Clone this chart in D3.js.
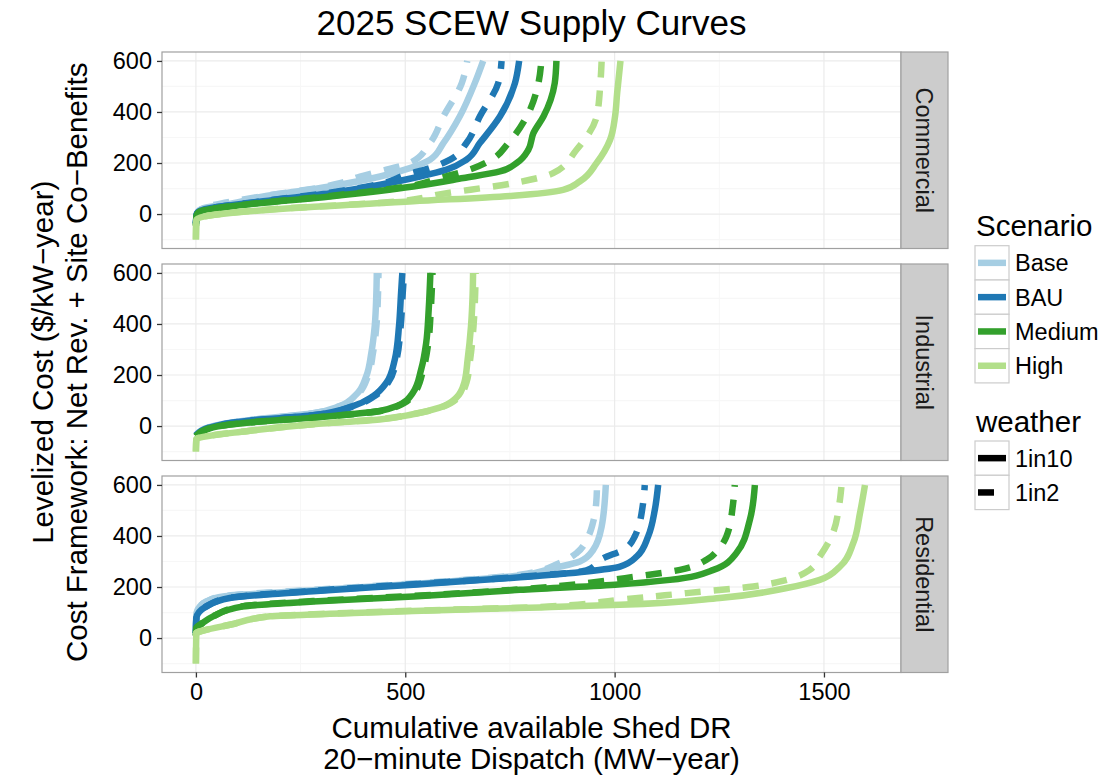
<!DOCTYPE html>
<html>
<head>
<meta charset="utf-8">
<script src="https://cdn.jsdelivr.net/npm/d3@7"></script>
<style>
  html, body { margin: 0; padding: 0; background: #fff; }
  svg { display: block; font-family: "Liberation Sans", Arial, Helvetica, sans-serif; }
</style>
</head>
<body>
<svg id="chart" width="1101" height="778"></svg>
<script>
// ---------- categories / ticks ----------
const sectors = ["Commercial", "Industrial", "Residential"];
const scenarios = ["Base", "BAU", "Medium", "High"];
const scenarioColors = ["#A6CEE3", "#1F78B4", "#33A02C", "#B2DF8A"];
const weathers = ["1in10", "1in2"];
const xTicks = [0, 500, 1000, 1500];
const xMinor = [250, 750, 1250];
const yTicks = [0, 200, 400, 600];
const yMinor = [-100, 100, 300, 500];

// ---------- series values: [cumulative MW-year, $/kW-year] ----------
// Commercial
const comBase1in10 = [[0,-35],[2,0],[17,23],[80,40],[161,69],[320,108],[440,147],[511,180],[559,213],[591,278],[630,382],[666,513],[686,600]];
const comBase1in2  = [[0,-35],[2,0],[17,23],[161,70],[300,105],[344,121],[392,147],[455,174],[511,200],[559,278],[591,382],[635,513],[648,600]];
const comBAU1in10  = [[0,-38],[2,0],[17,17],[161,50],[320,82],[440,115],[535,147],[599,174],[646,213],[678,278],[726,382],[762,513],[772,600]];
const comBAU1in2   = [[0,-38],[2,0],[17,17],[161,51],[320,84],[440,118],[503,154],[559,180],[607,213],[646,278],[678,382],[722,513],[730,600]];
const comMed1in10  = [[0,-45],[2,-5],[10,10],[121,37],[320,69],[519,108],[639,141],[726,167],[766,200],[794,252],[806,317],[830,382],[857,513],[861,600]];
const comMed1in2   = [[0,-45],[2,-5],[10,10],[121,38],[320,71],[519,112],[583,141],[654,174],[706,213],[746,278],[790,382],[818,513],[825,600]];
const comHigh1in10 = [[0,-100],[1,-22],[21,-9],[200,20],[519,50],[758,72],[877,95],[917,128],[957,200],[989,290],[1001,382],[1006,473],[1014,600]];
const comHigh1in2  = [[0,-100],[1,-22],[21,-9],[200,21],[450,45],[599,82],[758,121],[853,160],[909,252],[957,382],[966,513],[969,600]];
// Industrial
const indBase1in10 = [[0,-35],[41,0],[121,22],[280,50],[343,78],[383,124],[407,196],[419,287],[427,391],[431,522],[432,600]];
const indBase1in2  = [[0,-35],[41,0],[121,22],[280,50],[345,78],[386,124],[411,196],[423,287],[431,391],[435,522],[436,600]];
const indBAU1in10  = [[0,-37],[41,-2],[121,20],[280,42],[375,78],[423,117],[455,170],[475,261],[485,391],[490,522],[493,600]];
const indBAU1in2   = [[0,-37],[41,-2],[121,20],[280,42],[377,78],[426,117],[459,170],[479,261],[489,391],[494,522],[497,600]];
const indMed1in10  = [[0,-40],[41,-5],[121,13],[280,33],[439,59],[479,78],[518,130],[538,222],[550,326],[556,457],[560,600]];
const indMed1in2   = [[0,-40],[41,-5],[121,13],[280,33],[441,59],[482,78],[522,130],[543,222],[555,326],[561,457],[565,600]];
const indHigh1in10 = [[0,-100],[1,-52],[121,-20],[280,7],[439,26],[518,46],[582,72],[622,111],[641,170],[649,261],[657,391],[661,522],[662,600]];
const indHigh1in2  = [[0,-100],[1,-52],[121,-20],[280,7],[439,27],[520,47],[585,73],[626,111],[646,170],[655,261],[663,391],[667,522],[668,600]];
// Residential
const resBase1in10 = [[0,20],[1,91],[10,125],[25,143],[65,163],[280,187],[519,212],[774,245],[853,274],[917,300],[949,346],[969,437],[979,600]];
const resBase1in2  = [[0,20],[1,91],[10,125],[25,143],[65,164],[280,189],[519,214],[774,248],[869,294],[909,333],[937,398],[950,463],[956,528],[958,600]];
const resBAU1in10  = [[0,20],[1,78],[25,124],[81,157],[280,183],[519,209],[774,238],[933,261],[1013,280],[1053,320],[1080,398],[1096,502],[1104,600]];
const resBAU1in2   = [[0,20],[1,78],[25,124],[81,158],[280,185],[519,211],[774,240],[933,265],[973,313],[1021,346],[1048,398],[1068,528],[1072,600]];
const resMed1in10  = [[0,10],[1,40],[16,59],[41,85],[113,124],[280,143],[519,163],[774,189],[1001,209],[1132,228],[1236,267],[1291,333],[1323,463],[1335,600]];
const resMed1in2   = [[0,10],[1,40],[16,59],[41,85],[113,125],[280,145],[519,165],[774,191],[1053,241],[1156,267],[1220,307],[1247,346],[1267,398],[1283,528],[1287,600]];
const resHigh1in10 = [[0,-100],[1,20],[17,29],[81,52],[177,85],[360,97],[519,106],[822,120],[1013,130],[1251,157],[1411,196],[1490,228],[1538,280],[1570,372],[1586,489],[1598,600]];
const resHigh1in2  = [[0,-100],[1,20],[17,29],[81,52],[177,85],[360,98],[519,107],[822,122],[1013,150],[1172,176],[1331,202],[1411,228],[1466,267],[1490,320],[1518,398],[1537,528],[1542,600]];

// lookup built from the arrays above
const curves = {
  Commercial:  { Base: [comBase1in10, comBase1in2], BAU: [comBAU1in10, comBAU1in2], Medium: [comMed1in10, comMed1in2], High: [comHigh1in10, comHigh1in2] },
  Industrial:  { Base: [indBase1in10, indBase1in2], BAU: [indBAU1in10, indBAU1in2], Medium: [indMed1in10, indMed1in2], High: [indHigh1in10, indHigh1in2] },
  Residential: { Base: [resBase1in10, resBase1in2], BAU: [resBAU1in10, resBAU1in2], Medium: [resMed1in10, resMed1in2], High: [resHigh1in10, resHigh1in2] }
};

// ---------- layout ----------
const svg = d3.select("#chart");
const panelLeft = 162, panelRight = 901;
const panelTops = [52, 264, 476];
const panelH = 196.5;
const stripW = 47;
const dash = "16,13";
const lineW = 6.5;

const x = d3.scaleLinear().domain([-81, 1684]).range([panelLeft, panelRight]);
const color = d3.scaleOrdinal().domain(scenarios).range(scenarioColors);
const dashOf = d3.scaleOrdinal().domain(weathers).range([null, dash]);

// title
svg.append("text").attr("x", (panelLeft + panelRight) / 2).attr("y", 35)
  .attr("text-anchor", "middle").attr("font-size", 35).attr("fill", "#000")
  .text("2025 SCEW Supply Curves");

sectors.forEach((sector, i) => {
  const top = panelTops[i];
  const y = d3.scaleLinear().domain([-135, 635]).range([top + panelH, top]);
  const g = svg.append("g");

  // panel background
  g.append("rect").attr("x", panelLeft).attr("y", top).attr("width", panelRight - panelLeft).attr("height", panelH).attr("fill", "#fff");

  // minor grid
  g.selectAll(null).data(xMinor).join("line")
    .attr("x1", d => x(d)).attr("x2", d => x(d)).attr("y1", top).attr("y2", top + panelH)
    .attr("stroke", "#F7F7F7").attr("stroke-width", 1);
  g.selectAll(null).data(yMinor).join("line")
    .attr("x1", panelLeft).attr("x2", panelRight).attr("y1", d => y(d)).attr("y2", d => y(d))
    .attr("stroke", "#F7F7F7").attr("stroke-width", 1.2);
  // major grid
  g.selectAll(null).data(xTicks).join("line")
    .attr("x1", d => x(d)).attr("x2", d => x(d)).attr("y1", top).attr("y2", top + panelH)
    .attr("stroke", "#EBEBEB").attr("stroke-width", 1.2);
  g.selectAll(null).data(yTicks).join("line")
    .attr("x1", panelLeft).attr("x2", panelRight).attr("y1", d => y(d)).attr("y2", d => y(d))
    .attr("stroke", "#EBEBEB").attr("stroke-width", 1.2);

  // curves
  const clipId = "clip" + i;
  svg.append("clipPath").attr("id", clipId).append("rect")
    .attr("x", panelLeft).attr("y", top).attr("width", panelRight - panelLeft).attr("height", panelH);
  const line = d3.line().x(d => x(d[0])).y(d => y(d[1])).curve(d3.curveMonotoneY);
  const lg = g.append("g").attr("clip-path", `url(#${clipId})`);
  scenarios.forEach(sc => {
    weathers.forEach((w, wi) => {
      lg.append("path").datum(curves[sector][sc][wi])
        .attr("d", line)
        .attr("fill", "none")
        .attr("stroke", color(sc))
        .attr("stroke-width", lineW)
        .attr("stroke-linejoin", "round")
        .attr("stroke-dasharray", dashOf(w));
    });
  });

  // panel border
  g.append("rect").attr("x", panelLeft).attr("y", top).attr("width", panelRight - panelLeft).attr("height", panelH)
    .attr("fill", "none").attr("stroke", "#A0A0A0").attr("stroke-width", 1.2);

  // strip
  g.append("rect").attr("x", panelRight).attr("y", top).attr("width", stripW).attr("height", panelH)
    .attr("fill", "#CCCCCC").attr("stroke", "#A0A0A0").attr("stroke-width", 1.2);
  g.append("text")
    .attr("transform", `translate(${panelRight + stripW / 2 - 8.5},${top + panelH / 2}) rotate(90)`)
    .attr("text-anchor", "middle").attr("font-size", 23.5).attr("fill", "#1a1a1a")
    .text(sector);

  // y axis
  const yAxis = d3.axisLeft(y).tickValues(yTicks).tickSize(5).tickPadding(5).tickFormat(d3.format("d"));
  const ya = g.append("g").attr("transform", `translate(${panelLeft},0)`).call(yAxis);
  ya.select(".domain").remove();
  ya.selectAll(".tick line").attr("stroke", "#333").attr("stroke-width", 1.3);
  ya.selectAll(".tick text").attr("font-size", 23.5).attr("fill", "#000")
    .attr("font-family", "Liberation Sans, Arial, sans-serif");

  if (i === sectors.length - 1) {
    const xAxis = d3.axisBottom(x).tickValues(xTicks).tickSize(5).tickPadding(6).tickFormat(d3.format("d"));
    const xa = g.append("g").attr("transform", `translate(0,${top + panelH})`).call(xAxis);
    xa.select(".domain").remove();
    xa.selectAll(".tick line").attr("stroke", "#333").attr("stroke-width", 1.3);
    xa.selectAll(".tick text").attr("font-size", 23.5).attr("fill", "#000")
      .attr("font-family", "Liberation Sans, Arial, sans-serif");
  }
});

// axis titles
const cx = (panelLeft + panelRight) / 2;
svg.append("text").attr("x", cx).attr("y", 738).attr("text-anchor", "middle").attr("font-size", 29.5)
  .text("Cumulative available Shed DR");
svg.append("text").attr("x", cx).attr("y", 769).attr("text-anchor", "middle").attr("font-size", 29.5)
  .text("20\u2212minute Dispatch (MW\u2212year)");
const cy = (panelTops[0] + panelTops[2] + panelH) / 2;
svg.append("text").attr("transform", `translate(53,${cy}) rotate(-90)`).attr("text-anchor", "middle").attr("font-size", 29.5)
  .text("Levelized Cost ($/kW\u2212year)");
svg.append("text").attr("transform", `translate(87,${cy}) rotate(-90)`).attr("text-anchor", "middle").attr("font-size", 29.5)
  .text("Cost Framework: Net Rev. + Site Co\u2212Benefits");

// ---------- legends ----------
const legX = 975, keyW = 34, keyH = 34.3;
const lg1 = svg.append("g");
lg1.append("text").attr("x", 976).attr("y", 236).attr("font-size", 29.5).text("Scenario");
scenarios.forEach((sc, k) => {
  const ky = 245.7 + k * keyH;
  lg1.append("rect").attr("x", legX).attr("y", ky).attr("width", keyW).attr("height", keyH)
    .attr("fill", "#fff").attr("stroke", "#CCCCCC").attr("stroke-width", 1.2);
  lg1.append("line").attr("x1", legX + 3).attr("x2", legX + keyW - 3).attr("y1", ky + keyH / 2).attr("y2", ky + keyH / 2)
    .attr("stroke", color(sc)).attr("stroke-width", lineW);
  lg1.append("text").attr("x", 1015).attr("y", ky + keyH / 2 + 8.5).attr("font-size", 23.5).text(sc);
});
const lg2 = svg.append("g");
lg2.append("text").attr("x", 976).attr("y", 432).attr("font-size", 29.5).text("weather");
weathers.forEach((w, k) => {
  const ky = 441 + k * keyH;
  lg2.append("rect").attr("x", legX).attr("y", ky).attr("width", keyW).attr("height", keyH)
    .attr("fill", "#fff").attr("stroke", "#CCCCCC").attr("stroke-width", 1.2);
  lg2.append("line").attr("x1", legX + 3).attr("x2", legX + keyW - 3).attr("y1", ky + keyH / 2).attr("y2", ky + keyH / 2)
    .attr("stroke", "#000").attr("stroke-width", lineW).attr("stroke-dasharray", dashOf(w));
  lg2.append("text").attr("x", 1015).attr("y", ky + keyH / 2 + 8.5).attr("font-size", 23.5).text(w);
});
</script>
</body>
</html>
